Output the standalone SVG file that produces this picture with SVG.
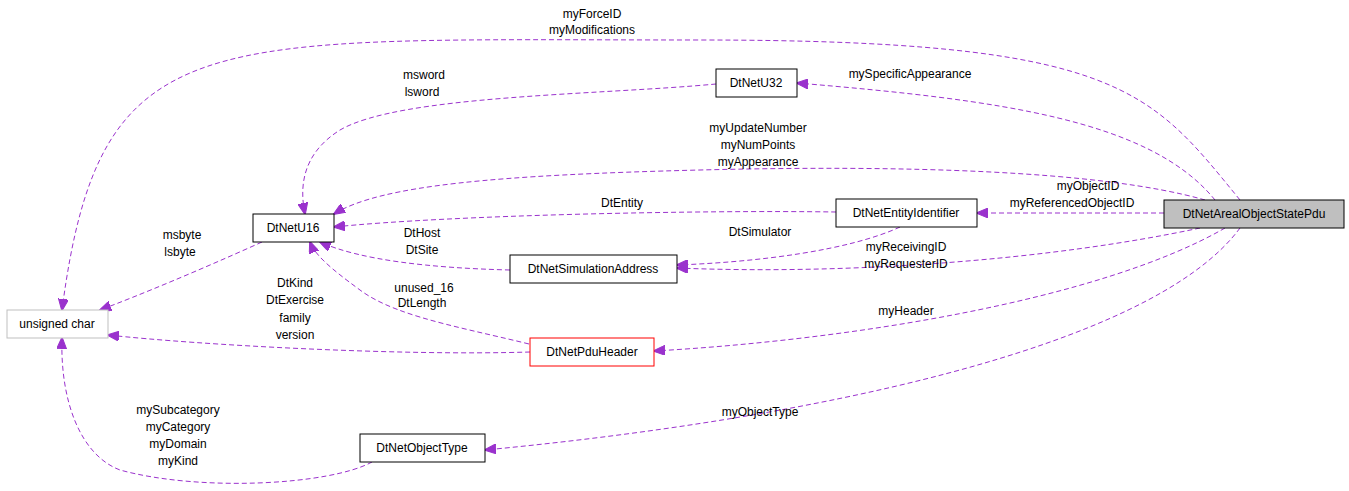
<svg xmlns="http://www.w3.org/2000/svg" width="1349" height="491" viewBox="0 0 1349 491">
<style>
.n{fill:#fff;stroke:#000;stroke-width:1}
text{font-family:"Liberation Sans",Arial,sans-serif;font-size:12px;fill:#000}
.c{text-anchor:middle}
.e{fill:none;stroke:#9a32cd;stroke-width:1;stroke-dasharray:5,3}
</style>
<defs><marker id="a" markerWidth="12" markerHeight="10" refX="11" refY="5" orient="auto" markerUnits="userSpaceOnUse"><path d="M0,0 L12,5 L0,10 Z" fill="#9a32cd" stroke="#9a32cd"/></marker></defs>
<rect width="1349" height="491" fill="#fff"/>
<g id="connectors">
<path class="e" marker-end="url(#a)" d="M1240,200 C1150,90 1120,40 700,40 C200,40 100,20 62,310"/>
<path class="e" marker-end="url(#a)" d="M1215,200 C1150,120 1000,100 797,83"/>
<path class="e" marker-end="url(#a)" d="M1205,200 C1100,170 900,165 700,170 C500,175 380,185 334,214"/>
<path class="e" marker-end="url(#a)" d="M1164,213 L977,213"/>
<path class="e" marker-end="url(#a)" d="M1200,228 C1050,260 850,275 677,268"/>
<path class="e" marker-end="url(#a)" d="M1225,228 C1100,300 850,340 654,351"/>
<path class="e" marker-end="url(#a)" d="M1240,228 C1150,350 800,420 485,450"/>
<path class="e" marker-end="url(#a)" d="M716,84 C600,95 400,95 340,130 C300,155 300,190 305,214"/>
<path class="e" marker-end="url(#a)" d="M836,212 C700,210 450,215 334,227"/>
<path class="e" marker-end="url(#a)" d="M900,227 C850,250 760,262 677,265"/>
<path class="e" marker-end="url(#a)" d="M510,270 C430,268 360,260 320,242"/>
<path class="e" marker-end="url(#a)" d="M560,352 C480,330 400,320 360,290 C330,268 315,255 310,242"/>
<path class="e" marker-end="url(#a)" d="M530,352 C400,356 200,345 108,335"/>
<path class="e" marker-end="url(#a)" d="M262,242 C200,270 140,295 100,310"/>
<path class="e" marker-end="url(#a)" d="M372,462 C330,485 200,492 120,470 C80,455 60,400 62,338"/>
</g>
<g id="labels">
<text class="c" x="592" y="18">myForceID</text><text class="c" x="592" y="34">myModifications</text>
<text class="c" x="910" y="78">mySpecificAppearance</text>
<text class="c" x="758" y="132">myUpdateNumber</text><text class="c" x="758" y="149">myNumPoints</text><text class="c" x="758" y="166">myAppearance</text>
<text class="c" x="1088" y="190">myObjectID</text><text class="c" x="1072" y="207">myReferencedObjectID</text>
<text class="c" x="906" y="251">myReceivingID</text><text class="c" x="906" y="268">myRequesterID</text>
<text class="c" x="906" y="315">myHeader</text>
<text class="c" x="760" y="416">myObjectType</text>
<text class="c" x="424" y="79">msword</text><text class="c" x="422" y="96">lsword</text>
<text class="c" x="622" y="207">DtEntity</text>
<text class="c" x="760" y="236">DtSimulator</text>
<text class="c" x="422" y="237">DtHost</text><text class="c" x="422" y="254">DtSite</text>
<text class="c" x="424" y="292">unused_16</text><text class="c" x="422" y="307">DtLength</text>
<text class="c" x="295" y="287">DtKind</text><text class="c" x="295" y="304">DtExercise</text><text class="c" x="295" y="322">family</text><text class="c" x="295" y="339">version</text>
<text class="c" x="182" y="239">msbyte</text><text class="c" x="180" y="256">lsbyte</text>
<text class="c" x="178" y="414">mySubcategory</text><text class="c" x="178" y="431">myCategory</text><text class="c" x="178" y="448">myDomain</text><text class="c" x="178" y="465">myKind</text>
</g>
<g id="DtNetArealObjectStatePdu"><rect x="1164" y="200" width="180" height="28" fill="#bfbfbf" stroke="#000"/><text class="c" x="1254" y="218">DtNetArealObjectStatePdu</text></g>
<g id="DtNetU32"><rect class="n" x="716" y="69" width="81" height="28"/><text class="c" x="756" y="87">DtNetU32</text></g>
<g id="DtNetEntityIdentifier"><rect class="n" x="836" y="199" width="141" height="28"/><text class="c" x="906" y="217">DtNetEntityIdentifier</text></g>
<g id="DtNetU16"><rect class="n" x="253" y="214" width="81" height="28"/><text class="c" x="293" y="232">DtNetU16</text></g>
<g id="DtNetSimulationAddress"><rect class="n" x="510" y="255" width="167" height="28"/><text class="c" x="593" y="273">DtNetSimulationAddress</text></g>
<g id="unsigned_char"><rect x="7" y="310" width="101" height="28" fill="#fff" stroke="#bfbfbf"/><text class="c" x="57" y="328">unsigned char</text></g>
<g id="DtNetPduHeader"><rect x="530" y="338" width="124" height="28" fill="#fff" stroke="#ff0000"/><text class="c" x="592" y="356">DtNetPduHeader</text></g>
<g id="DtNetObjectType"><rect class="n" x="360" y="434" width="125" height="28"/><text class="c" x="422" y="452">DtNetObjectType</text></g>
</svg>
